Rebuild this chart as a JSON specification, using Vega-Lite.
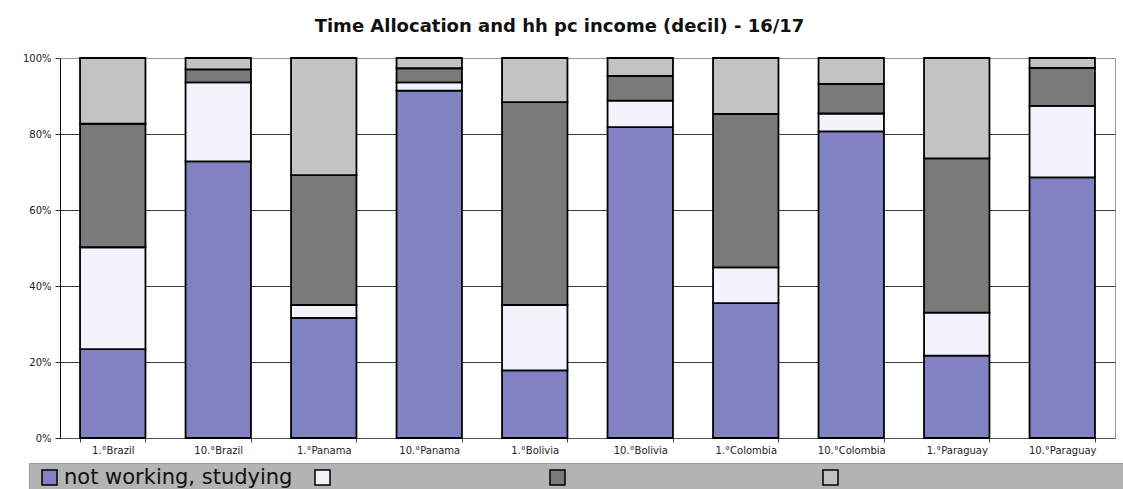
{
  "$schema": "https://vega.github.io/schema/vega-lite/v6.json",
  "width": 1055,
  "height": 380,
  "autosize": {"type": "none"},
  "padding": {"left": 60, "top": 58, "right": 8, "bottom": 51},
  "background": "white",
  "title": {
    "text": "Time Allocation and hh pc income (decil) - 16/17",
    "font": "DejaVu Sans",
    "fontSize": 18,
    "fontWeight": "bold",
    "color": "#111111",
    "anchor": "middle",
    "frame": "group",
    "baseline": "alphabetic",
    "offset": 3.5,
    "dx": -28
  },
  "data": {
    "values": [
      {"g": "1.°Brazil", "s": "not working, studying", "k": 1, "v": 23.4},
      {"g": "1.°Brazil", "s": "working, studying", "k": 2, "v": 26.8},
      {"g": "1.°Brazil", "s": "working, not studying", "k": 3, "v": 32.5},
      {"g": "1.°Brazil", "s": "not working, not studying", "k": 4, "v": 17.3},
      {"g": "10.°Brazil", "s": "not working, studying", "k": 1, "v": 72.8},
      {"g": "10.°Brazil", "s": "working, studying", "k": 2, "v": 20.8},
      {"g": "10.°Brazil", "s": "working, not studying", "k": 3, "v": 3.4},
      {"g": "10.°Brazil", "s": "not working, not studying", "k": 4, "v": 3.0},
      {"g": "1.°Panama", "s": "not working, studying", "k": 1, "v": 31.6},
      {"g": "1.°Panama", "s": "working, studying", "k": 2, "v": 3.4},
      {"g": "1.°Panama", "s": "working, not studying", "k": 3, "v": 34.2},
      {"g": "1.°Panama", "s": "not working, not studying", "k": 4, "v": 30.8},
      {"g": "10.°Panama", "s": "not working, studying", "k": 1, "v": 91.4},
      {"g": "10.°Panama", "s": "working, studying", "k": 2, "v": 2.2},
      {"g": "10.°Panama", "s": "working, not studying", "k": 3, "v": 3.7},
      {"g": "10.°Panama", "s": "not working, not studying", "k": 4, "v": 2.7},
      {"g": "1.°Bolivia", "s": "not working, studying", "k": 1, "v": 17.8},
      {"g": "1.°Bolivia", "s": "working, studying", "k": 2, "v": 17.2},
      {"g": "1.°Bolivia", "s": "working, not studying", "k": 3, "v": 53.4},
      {"g": "1.°Bolivia", "s": "not working, not studying", "k": 4, "v": 11.6},
      {"g": "10.°Bolivia", "s": "not working, studying", "k": 1, "v": 81.8},
      {"g": "10.°Bolivia", "s": "working, studying", "k": 2, "v": 7.0},
      {"g": "10.°Bolivia", "s": "working, not studying", "k": 3, "v": 6.5},
      {"g": "10.°Bolivia", "s": "not working, not studying", "k": 4, "v": 4.7},
      {"g": "1.°Colombia", "s": "not working, studying", "k": 1, "v": 35.5},
      {"g": "1.°Colombia", "s": "working, studying", "k": 2, "v": 9.4},
      {"g": "1.°Colombia", "s": "working, not studying", "k": 3, "v": 40.4},
      {"g": "1.°Colombia", "s": "not working, not studying", "k": 4, "v": 14.7},
      {"g": "10.°Colombia", "s": "not working, studying", "k": 1, "v": 80.7},
      {"g": "10.°Colombia", "s": "working, studying", "k": 2, "v": 4.7},
      {"g": "10.°Colombia", "s": "working, not studying", "k": 3, "v": 7.8},
      {"g": "10.°Colombia", "s": "not working, not studying", "k": 4, "v": 6.8},
      {"g": "1.°Paraguay", "s": "not working, studying", "k": 1, "v": 21.7},
      {"g": "1.°Paraguay", "s": "working, studying", "k": 2, "v": 11.3},
      {"g": "1.°Paraguay", "s": "working, not studying", "k": 3, "v": 40.6},
      {"g": "1.°Paraguay", "s": "not working, not studying", "k": 4, "v": 26.4},
      {"g": "10.°Paraguay", "s": "not working, studying", "k": 1, "v": 68.6},
      {"g": "10.°Paraguay", "s": "working, studying", "k": 2, "v": 18.8},
      {"g": "10.°Paraguay", "s": "working, not studying", "k": 3, "v": 10.0},
      {"g": "10.°Paraguay", "s": "not working, not studying", "k": 4, "v": 2.6}
    ]
  },
  "mark": {"type": "bar", "stroke": "black", "strokeWidth": 1.8},
  "encoding": {
    "x": {
      "field": "g",
      "type": "nominal",
      "sort": null,
      "scale": {"paddingInner": 0.38, "paddingOuter": 0.19},
      "axis": {
        "title": null,
        "labelAngle": 0,
        "tickBand": "extent",
        "tickSize": 4,
        "tickColor": "#444444",
        "domainColor": "#555555",
        "labelFont": "DejaVu Sans",
        "labelFontSize": 10,
        "labelColor": "#222222",
        "labelPadding": 3,
        "grid": false
      }
    },
    "y": {
      "field": "v",
      "type": "quantitative",
      "stack": "normalize",
      "scale": {"domain": [0, 1], "nice": false},
      "axis": {
        "title": null,
        "values": [0, 0.2, 0.4, 0.6, 0.8, 1],
        "format": ".0%",
        "labelFont": "DejaVu Sans",
        "labelFontSize": 10,
        "labelColor": "#222222",
        "labelPadding": 4,
        "tickSize": 5,
        "tickColor": "#333333",
        "domainColor": "#111111",
        "grid": true,
        "gridColor": {"condition": {"test": "datum.value >= 1", "value": "#9a9a9a"}, "value": "#3a3a3a"},
        "gridWidth": 1
      }
    },
    "order": {"field": "k", "type": "quantitative"},
    "color": {
      "field": "s",
      "type": "nominal",
      "sort": ["not working, studying", "working, studying", "working, not studying", "not working, not studying"],
      "scale": {
        "domain": ["not working, studying", "working, studying", "working, not studying", "not working, not studying"],
        "range": ["#8282c2", "#f3f3fb", "#7a7a7a", "#c3c3c3"]
      },
      "legend": {
        "title": null,
        "orient": "none",
        "legendX": -31,
        "legendY": 405,
        "direction": "horizontal",
        "columns": 4,
        "gridAlign": "each",
        "columnPadding": 13,
        "padding": 4,
        "fillColor": "#b3b3b3",
        "strokeColor": "#9a9a9a",
        "symbolType": "square",
        "symbolSize": 225,
        "symbolStrokeColor": "black",
        "symbolStrokeWidth": 1.5,
        "symbolOffset": 6,
        "labelOffset": 4,
        "labelFont": "DejaVu Sans",
        "labelFontSize": 21,
        "labelColor": "#111111",
        "labelLimit": 600,
        "labelExpr": "datum.label == 'not working, studying' ? datum.label : ''",
        "encode": {
          "labels": {
            "update": {
              "dx": {"signal": "datum.label == 'working, studying' ? 191 : datum.label == 'working, not studying' ? 229 : datum.label == 'not working, not studying' ? 284 : 0"}
            }
          }
        }
      }
    }
  },
  "config": {
    "view": {"stroke": "#9a9a9a", "strokeWidth": 1}
  }
}
